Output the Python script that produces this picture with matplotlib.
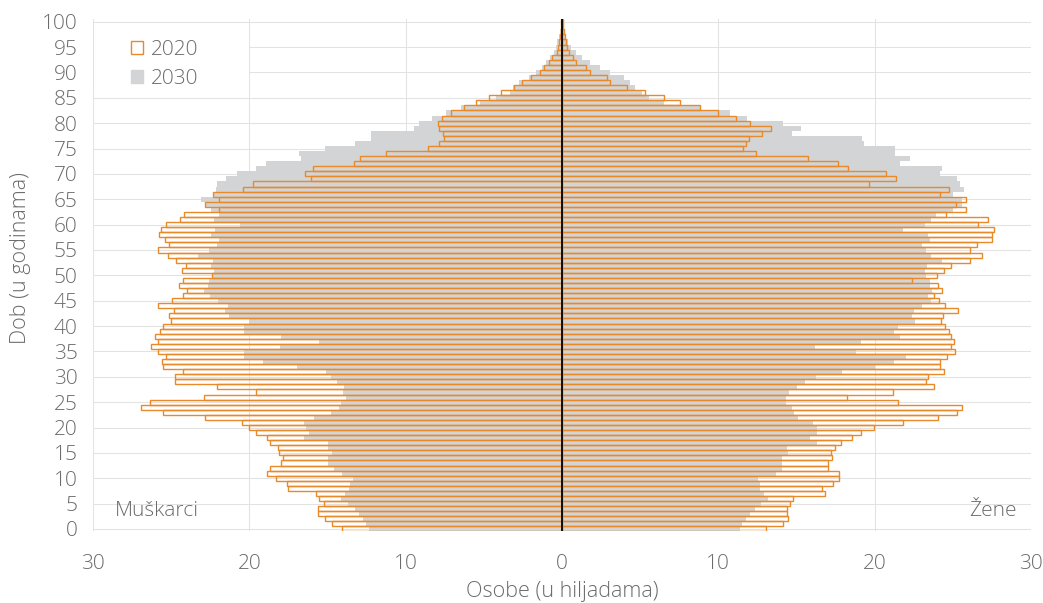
import matplotlib
matplotlib.use("Agg")
import matplotlib.pyplot as plt
import numpy as np
from matplotlib.patches import Patch, Rectangle

ages = list(range(0, 101))

male_2020 = [14.07, 14.71, 15.16, 15.6, 15.6, 15.2, 15.52, 15.73, 17.53, 17.6,
             18.27, 18.9, 18.7, 18.0, 17.85, 18.1, 18.15, 18.7, 18.85, 19.56,
             20.0, 20.47, 22.86, 25.54, 26.93, 26.35, 22.9, 19.57, 22.09, 24.75,
             24.78, 24.26, 25.5, 25.59, 25.33, 25.84, 26.27, 25.84, 26.01, 25.71,
             25.5, 25.03, 25.12, 24.84, 25.84, 24.95, 24.26, 23.97, 24.52, 24.24,
             22.4, 24.3, 24.05, 24.69, 25.18, 25.86, 25.14, 25.39, 25.78, 25.63,
             25.33, 24.43, 24.18, 21.92, 22.81, 21.96, 22.3, 20.38, 19.74, 16.03,
             16.46, 15.91, 13.33, 12.92, 11.26, 8.57, 7.85, 7.53, 7.59, 7.85,
             7.95, 7.65, 7.1, 6.27, 5.52, 4.69, 3.88, 3.07, 2.54, 2.0,
             1.39, 1.17, 0.83, 0.62, 0.32, 0.26, 0.19, 0.14, 0.08, 0.05, 0.05]

male_2030 = [12.32, 12.54, 12.75, 13.0, 13.26, 13.7, 14.16, 13.88, 13.6, 13.56,
             13.4, 14.07, 14.56, 14.99, 15.0, 14.7, 15.0, 15.0, 16.5, 16.2,
             16.37, 16.48, 15.84, 14.78, 14.24, 14.14, 13.82, 14.03, 13.92, 14.41,
             14.78, 15.1, 16.97, 19.15, 20.36, 20.36, 18.04, 15.57, 17.97, 20.32,
             20.32, 20.04, 21.32, 21.54, 21.39, 22.02, 22.52, 22.88, 22.62, 22.56,
             22.4, 22.24, 22.47, 22.3, 23.3, 22.6, 22.09, 21.92, 22.45, 22.2,
             20.6, 22.24, 21.92, 22.45, 22.77, 23.07, 22.24, 22.13, 22.09, 21.49,
             20.8, 19.57, 18.93, 16.7, 16.8, 15.14, 13.24, 12.22, 12.22, 9.45,
             9.13, 8.29, 7.4, 6.44, 5.27, 4.2, 3.3, 3.13, 2.75, 2.11,
             1.64, 1.3, 1.0, 0.75, 0.53, 0.4, 0.32, 0.2, 0.12, 0.07, 0.05]

female_2020 = [13.03, 14.14, 14.46, 14.42, 14.4, 14.61, 14.78, 16.85, 16.63, 17.34,
               17.72, 17.72, 17.04, 17.04, 17.27, 17.21, 17.44, 17.83, 18.55, 19.15,
               19.96, 21.81, 24.05, 25.27, 25.59, 21.5, 18.23, 21.17, 23.78, 23.29,
               23.43, 24.44, 24.2, 24.2, 24.63, 25.12, 24.9, 25.06, 24.86, 24.76,
               24.5, 24.25, 24.4, 25.33, 24.52, 24.1, 23.82, 24.31, 24.07, 22.41,
               23.97, 24.46, 24.88, 26.1, 26.87, 26.1, 26.55, 27.51, 27.48, 27.61,
               26.63, 27.23, 24.59, 25.82, 25.23, 25.87, 24.16, 24.73, 19.64, 21.35,
               20.73, 18.3, 17.66, 15.74, 12.39, 11.58, 11.75, 11.96, 12.77, 13.39,
               12.0, 11.15, 9.96, 8.81, 7.57, 6.53, 5.29, 4.18, 3.09, 2.88,
               1.77, 1.52, 0.9, 0.71, 0.45, 0.32, 0.25, 0.17, 0.1, 0.06, 0.08]

female_2030 = [11.37, 11.54, 11.75, 12.05, 12.33, 12.75, 13.16, 12.9, 12.67, 12.67,
               12.52, 13.67, 14.05, 14.05, 14.1, 14.44, 14.42, 16.29, 15.87, 16.3,
               16.3, 16.06, 15.12, 14.82, 14.74, 14.35, 14.35, 14.52, 15.0, 15.52,
               16.23, 17.9, 20.0, 21.22, 21.98, 18.8, 16.16, 19.1, 21.6, 21.24,
               21.5, 22.56, 22.41, 22.52, 23.05, 23.58, 23.39, 23.67, 23.52, 23.52,
               23.3, 23.22, 23.37, 24.33, 23.63, 23.3, 23.05, 23.56, 23.39, 21.8,
               23.24, 23.63, 23.95, 25.01, 25.59, 25.61, 25.01, 25.7, 25.44, 25.29,
               24.16, 24.31, 21.6, 22.28, 21.3, 21.3, 19.32, 19.21, 14.71, 15.31,
               14.14, 11.86, 10.73, 8.91, 6.53, 5.57, 5.14, 4.65, 4.37, 3.97,
               3.09, 2.41, 1.81, 1.3, 0.88, 0.6, 0.4, 0.24, 0.15, 0.1, 0.05]

series_labels = ["2020", "2030"]
x_ticks = [-30, -20, -10, 0, 10, 20, 30]
y_ticks = list(range(0, 101, 5))

FONT = ["Open Sans", "DejaVu Sans"]
TXT = "#6B6B6B"
ORANGE = "#E8892A"
GREY = "#D3D4D5"
FS = 15

W, H = 1043, 603
fig = plt.figure(figsize=(W / 100, H / 100), dpi=100)
ax = fig.add_axes([0.0892, 0.1186, 0.8993, 0.8496])

ax.set_axisbelow(True)
ax.grid(True, color="#E2E2E2", linewidth=0.75)

y = np.array(ages)
# white box behind legend (hides grid there)
ax.add_patch(Rectangle((-29.95, 86.0), 9.9, 13.6, facecolor="white", edgecolor="none", zorder=1))
# 2030 grey filled
ax.barh(y, -np.array(male_2030), height=1.0, color=GREY, linewidth=0, zorder=2)
ax.barh(y, np.array(female_2030), height=1.0, color=GREY, linewidth=0, zorder=2)
# 2020 orange outline
ax.barh(y, -np.array(male_2020), height=1.0, facecolor="none", edgecolor=ORANGE, linewidth=1.0, zorder=3)
ax.barh(y, np.array(female_2020), height=1.0, facecolor="none", edgecolor=ORANGE, linewidth=1.0, zorder=3)

ax.axvline(0, color="black", linewidth=1.3, zorder=4)

ax.set_xlim(-30, 30)
ax.set_ylim(-0.5, 100.5)
ax.set_xticks(x_ticks)
ax.set_xticklabels([str(abs(t)) for t in x_ticks])
ax.set_yticks(y_ticks)
ax.set_yticklabels([str(t) for t in y_ticks])
ax.tick_params(axis="both", length=0, labelsize=FS, labelcolor=TXT)
ax.tick_params(axis="x", pad=16)
ax.tick_params(axis="y", pad=11)
for lab in ax.get_xticklabels() + ax.get_yticklabels():
    lab.set_family(FONT)
    lab.set_fontweight("light")
for s in ax.spines.values():
    s.set_visible(False)

fig.text(562 / W, 1 - 592 / H, "Osobe (u hiljadama)", fontsize=FS + 0.5, color=TXT, family=FONT,
         fontweight="light", ha="center", va="center")
fig.text(21 / W, 1 - 258 / H, "Dob (u godinama)", fontsize=FS + 0.5, color=TXT, family=FONT,
         fontweight="light", ha="center", va="center", rotation=90)

ax.text(-28.6, 3.5, "Muškarci", fontsize=FS, color=TXT, family=FONT, fontweight="light", va="center", ha="left")
ax.text(29.1, 3.5, "Žene", fontsize=FS, color=TXT, family=FONT, fontweight="light", va="center", ha="right")

handles = [Patch(facecolor="none", edgecolor=ORANGE, linewidth=1.0, label=series_labels[0]),
           Patch(facecolor=GREY, edgecolor=GREY, label=series_labels[1])]
leg = ax.legend(handles=handles, loc="upper left", bbox_to_anchor=(0.040, 0.960), frameon=False,
                prop={"family": FONT, "size": FS, "weight": "light"}, handlelength=0.62, handleheight=0.62,
                handletextpad=0.35, labelspacing=0.45, borderpad=0, borderaxespad=0)
for t in leg.get_texts():
    t.set_color(TXT)

fig.savefig("out.png", dpi=100, facecolor="white")
